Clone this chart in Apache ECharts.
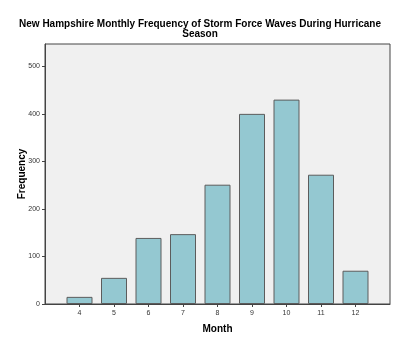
<!DOCTYPE html>
<html><head><meta charset="utf-8">
<script src="https://cdn.jsdelivr.net/npm/echarts@6/dist/echarts.min.js"></script>
<style>html,body{margin:0;padding:0;background:#fff}#c{width:400px;height:348px}</style>
</head><body><div id="c"></div>
<script>
const months = [4, 5, 6, 7, 8, 9, 10, 11, 12];
const frequency = [15, 55, 139, 147, 251, 400, 430, 272, 70];
const yTicks = [0, 100, 200, 300, 400, 500];

const chart = echarts.init(document.getElementById('c'), null, {renderer: 'canvas'});
chart.setOption({
  animation: false,
  backgroundColor: '#fff',
  title: {
    text: 'New Hampshire Monthly Frequency of Storm Force Waves During Hurricane\nSeason',
    left: 'center', top: 14,
    textStyle: {fontFamily: 'Liberation Sans', fontSize: 10, fontWeight: 'bold', color: '#000', lineHeight: 10}
  },
  grid: {left: 45, right: 10, top: 44, bottom: 44, show: true, backgroundColor: '#F0F0F0', borderColor: '#444', borderWidth: 1},
  xAxis: {
    type: 'value', min: 3, max: 13, interval: 1,
    name: 'Month', nameLocation: 'middle', nameGap: 20,
    nameTextStyle: {fontFamily: 'Liberation Sans', fontSize: 10, fontWeight: 'bold', color: '#000'},
    splitLine: {show: false},
    axisLine: {lineStyle: {color: '#444'}},
    axisTick: {customValues: months, length: 3, lineStyle: {color: '#444'}},
    axisLabel: {customValues: months, fontFamily: 'Liberation Sans', fontSize: 7, color: '#333', margin: 6}
  },
  yAxis: {
    type: 'value', min: 0, max: 547,
    name: 'Frequency', nameLocation: 'middle', nameGap: 18, nameMoveOverlap: false,
    nameTextStyle: {fontFamily: 'Liberation Sans', fontSize: 10, fontWeight: 'bold', color: '#000'},
    splitLine: {show: false},
    axisLine: {show: true, lineStyle: {color: '#444'}},
    axisTick: {show: true, customValues: yTicks, length: 3, lineStyle: {color: '#444'}},
    axisLabel: {customValues: yTicks, fontFamily: 'Liberation Sans', fontSize: 7, color: '#333', margin: 5}
  },
  series: [{
    type: 'bar', barWidth: 26,
    data: months.map((m, i) => [m, frequency[i]]),
    itemStyle: {color: '#94C8D1', borderColor: '#5c5c5c', borderWidth: 1}
  }]
});
</script></body></html>
